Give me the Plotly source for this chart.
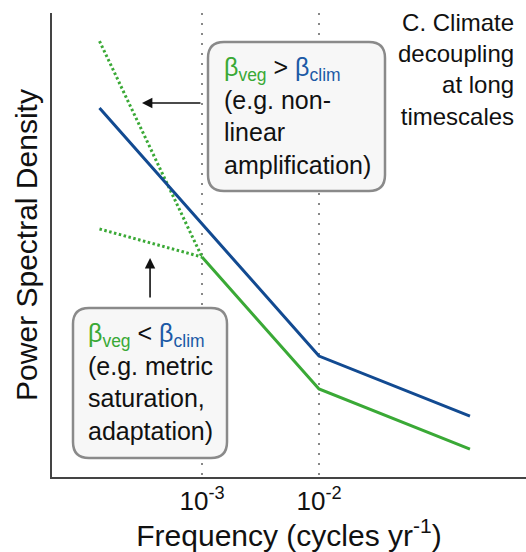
import plotly.graph_objects as go

# ---- data (frequency in cycles/yr, PSD arbitrary units) ----
freq_clim = [1.33e-4, 1e-2, 0.195]
psd_clim = [1426, 10.81, 3.32]

freq_veg = [1e-3, 1e-2, 0.195]
psd_veg = [75.9, 5.65, 1.73]

freq_amp = [1.33e-4, 1e-3]
psd_amp = [5321, 75.9]

freq_sat = [1.33e-4, 1e-3]
psd_sat = [131.8, 75.9]

tick_vals = [1e-3, 1e-2]
tick_text = ["10<sup>-3</sup>", "10<sup>-2</sup>"]

BLUE = "#124a91"
GREEN = "#3aa936"
FONT = "Liberation Sans, Arial, sans-serif"

W, H = 526, 552
ML, MR, MT, MB = 52, 0, 13, 75
PW, PH = W - ML - MR, H - MT - MB

def px2paper(px, py):
    return (px - ML) / PW, (H - MB - py) / PH

def rounded_path(x0, y0, x1, y1, r):
    def p(x, y):
        a, b = px2paper(x, y)
        return f"{a:.5f},{b:.5f}"
    s = f"M{p(x0 + r, y0)} L{p(x1 - r, y0)} Q{p(x1, y0)} {p(x1, y0 + r)} "
    s += f"L{p(x1, y1 - r)} Q{p(x1, y1)} {p(x1 - r, y1)} "
    s += f"L{p(x0 + r, y1)} Q{p(x0, y1)} {p(x0, y1 - r)} "
    s += f"L{p(x0, y0 + r)} Q{p(x0, y0)} {p(x0 + r, y0)} Z"
    return s

fig = go.Figure()
fig.add_trace(go.Scatter(x=freq_amp, y=psd_amp, mode="lines",
                         line=dict(color=GREEN, width=3, dash="2.5px,2.5px"), showlegend=False))
fig.add_trace(go.Scatter(x=freq_sat, y=psd_sat, mode="lines",
                         line=dict(color=GREEN, width=3, dash="2.5px,2.5px"), showlegend=False))
fig.add_trace(go.Scatter(x=freq_clim, y=psd_clim, mode="lines",
                         line=dict(color=BLUE, width=3), showlegend=False))
fig.add_trace(go.Scatter(x=freq_veg, y=psd_veg, mode="lines",
                         line=dict(color=GREEN, width=3), showlegend=False))

box_style = dict(type="path", xref="paper", yref="paper", layer="above",
                 fillcolor="#f7f7f7", line=dict(color="#8a8a8a", width=2.5))
fig.add_shape(path=rounded_path(208, 42, 385, 191, 16), **box_style)
fig.add_shape(path=rounded_path(73, 308, 227, 458, 16), **box_style)

def beta_line(op):
    return (f"<span style='color:{GREEN}'>β<sub>veg</sub></span> {op} "
            f"<span style='color:#1c5aa6'>β<sub>clim</sub></span>")

bx, by = px2paper(222, 116)
fig.add_annotation(x=bx, y=by, xref="paper", yref="paper", xanchor="left", yanchor="middle",
                   align="left", showarrow=False,
                   text=beta_line("&gt;") + "<br>(e.g. non-<br>linear<br>amplification)",
                   font=dict(family=FONT, size=25, color="#111"))
bx, by = px2paper(86, 382)
fig.add_annotation(x=bx, y=by, xref="paper", yref="paper", xanchor="left", yanchor="middle",
                   align="left", showarrow=False,
                   text=beta_line("&lt;") + "<br>(e.g. metric<br>saturation,<br>adaptation)",
                   font=dict(family=FONT, size=25, color="#111"))
tx, ty = px2paper(516, 70)
fig.add_annotation(x=tx, y=ty, xref="paper", yref="paper", xanchor="right", yanchor="middle",
                   align="right", showarrow=False,
                   text="C. Climate<br>decoupling<br>at long<br>timescales",
                   font=dict(family=FONT, size=24, color="#111"))

# arrows (tip positions in log10 data units)
fig.add_annotation(x=-3.513, y=3.197, xref="x", yref="y", ax=60, ay=0, text="",
                   showarrow=True, arrowhead=2, arrowsize=1.3, arrowwidth=1.6, arrowcolor="#111")
fig.add_annotation(x=-3.444, y=1.872, xref="x", yref="y", ax=0, ay=41, text="",
                   showarrow=True, arrowhead=2, arrowsize=1.3, arrowwidth=1.6, arrowcolor="#111")

fig.update_layout(
    width=W, height=H, margin=dict(l=ML, r=MR, t=MT, b=MB),
    plot_bgcolor="white", paper_bgcolor="white",
    font=dict(family=FONT, color="#111"),
    xaxis=dict(type="log", range=[-4.282, -0.231], showline=True, linecolor="#444", linewidth=2,
               tickvals=tick_vals, ticktext=tick_text, ticks="", tickfont=dict(size=26),
               showgrid=True, gridcolor="#888", griddash="2px,8px", gridwidth=1.5,
               zeroline=False,
               title=dict(text="Frequency (cycles yr<sup>-1</sup>)", font=dict(size=30), standoff=2)),
    yaxis=dict(type="log", range=[0, 3.966], showline=True, linecolor="#444", linewidth=2,
               showticklabels=False, ticks="", showgrid=False, zeroline=False,
               title=dict(text="Power Spectral Density", font=dict(size=30), standoff=4)),
)

fig.write_html("out.html")
